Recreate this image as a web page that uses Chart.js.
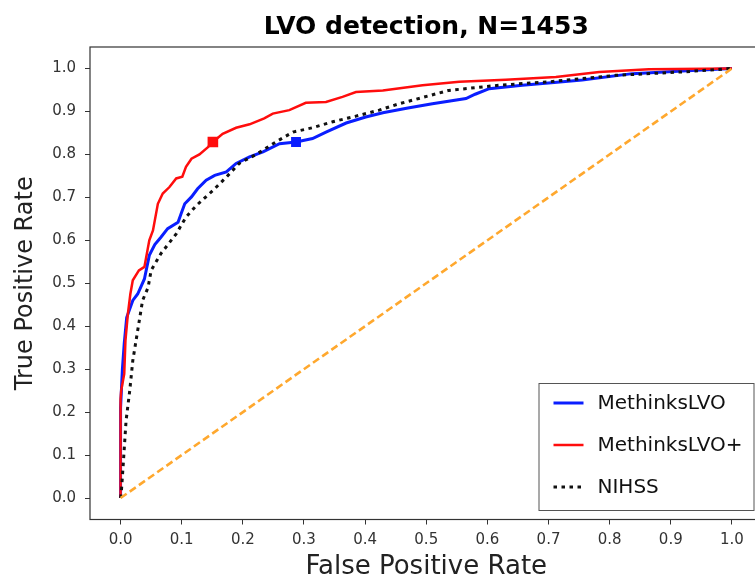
<!DOCTYPE html>
<html>
<head>
<meta charset="utf-8">
<script src="https://cdn.jsdelivr.net/npm/chart.js@4/dist/chart.umd.min.js"></script>
<style>
  html, body { margin: 0; padding: 0; background: #fff; overflow: hidden; }
  #wrap { position: absolute; left: 0; top: 0; width: 770px; height: 583px; }
</style>
</head>
<body>
<div id="wrap"><canvas id="roc"></canvas></div>
<script>
// --- Data ---
const tickValues = [0, 0.1, 0.2, 0.3, 0.4, 0.5, 0.6, 0.7, 0.8, 0.9, 1.0];

// MethinksLVO (blue)
const fprBlue = [0, 0, 0.003, 0.006, 0.010, 0.015, 0.020, 0.028, 0.039, 0.047, 0.056, 0.066, 0.077, 0.094, 0.099,
  0.105, 0.116, 0.126, 0.140, 0.154, 0.173, 0.189, 0.211, 0.233, 0.260, 0.287, 0.314, 0.336, 0.369, 0.401,
  0.429, 0.470, 0.510, 0.565, 0.580, 0.603, 0.657, 0.700, 0.755, 0.837, 0.919, 1.0];
const tprBlue = [0, 0.21, 0.30, 0.36, 0.42, 0.44, 0.46, 0.475, 0.51, 0.565, 0.59, 0.607, 0.627, 0.642, 0.662,
  0.685, 0.701, 0.720, 0.740, 0.751, 0.759, 0.779, 0.794, 0.806, 0.825, 0.829, 0.837, 0.852, 0.873, 0.887,
  0.897, 0.908, 0.918, 0.930, 0.940, 0.953, 0.961, 0.966, 0.973, 0.988, 0.994, 1.0];

// MethinksLVO+ (red)
const fprRed = [0, 0, 0.001, 0.006, 0.008, 0.012, 0.016, 0.020, 0.030, 0.039, 0.047, 0.053, 0.061, 0.069, 0.080,
  0.091, 0.101, 0.107, 0.116, 0.129, 0.143, 0.151, 0.167, 0.189, 0.211, 0.235, 0.249, 0.276, 0.303, 0.336,
  0.363, 0.385, 0.429, 0.494, 0.554, 0.630, 0.712, 0.783, 0.864, 1.0];
const tprRed = [0, 0.23, 0.25, 0.289, 0.367, 0.429, 0.475, 0.507, 0.53, 0.538, 0.60, 0.623, 0.685, 0.709, 0.724,
  0.744, 0.748, 0.771, 0.79, 0.80, 0.817, 0.829, 0.848, 0.862, 0.870, 0.884, 0.895, 0.903, 0.920, 0.922,
  0.934, 0.945, 0.949, 0.961, 0.969, 0.974, 0.980, 0.992, 0.998, 1.0];

// NIHSS (black dotted)
const fprNihss = [0, 0.001, 0.004, 0.009, 0.015, 0.020, 0.028, 0.036, 0.045, 0.050, 0.066, 0.091, 0.107, 0.124,
  0.151, 0.173, 0.194, 0.222, 0.254, 0.282, 0.314, 0.347, 0.385, 0.423, 0.456, 0.537, 0.619, 0.701, 0.810,
  0.919, 1.0];
const tprNihss = [0, 0.009, 0.071, 0.18, 0.25, 0.32, 0.39, 0.46, 0.49, 0.53, 0.569, 0.615, 0.654, 0.681,
  0.716, 0.747, 0.779, 0.80, 0.829, 0.852, 0.862, 0.876, 0.889, 0.903, 0.918, 0.949, 0.961, 0.969, 0.984,
  0.992, 1.0];

// chance diagonal
const fprChance = [0, 1];
const tprChance = [0, 1];

// operating points (squares)
const opRed = [0.151, 0.829];
const opBlue = [0.287, 0.829];

const toPoints = (xs, ys) => xs.map((x, i) => ({ x: x, y: ys[i] }));

// --- Plot frame (all four spines) ---
const framePlugin = {
    id: 'frame',
    afterDatasetsDraw(chart) {
        const { ctx, chartArea: a } = chart;
        ctx.save();
        ctx.strokeStyle = '#333';
        ctx.lineWidth = 1.2;
        ctx.strokeRect(a.left, a.top, a.right - a.left, a.bottom - a.top);
        ctx.restore();
    }
};

// --- Legend box, lower right inside the axes ---
const legendPlugin = {
    id: 'boxLegend',
    afterDraw(chart) {
        const { ctx, chartArea: a } = chart;
        const items = chart.data.datasets.filter(d => d.inLegend);
        const w = 215, rowH = 42, h = 127;
        const right = a.right - 9, bottom = a.bottom - 9.5;
        const left = right - w, top = bottom - h;
        ctx.save();
        ctx.fillStyle = '#fff';
        ctx.fillRect(left, top, w, h);
        ctx.strokeStyle = '#555';
        ctx.lineWidth = 1;
        ctx.strokeRect(left + 0.5, top + 0.5, w, h);
        items.forEach((d, i) => {
            const y = top + 20 + i * rowH;
            ctx.beginPath();
            ctx.setLineDash(d.borderDash || []);
            ctx.strokeStyle = d.borderColor;
            ctx.lineWidth = d.borderWidth;
            ctx.moveTo(left + 15, y);
            ctx.lineTo(left + 45, y);
            ctx.stroke();
            ctx.setLineDash([]);
            ctx.fillStyle = '#111';
            ctx.font = '20px "DejaVu Sans"';
            ctx.textBaseline = 'middle';
            ctx.fillText(d.label, left + 59, y + 1);
        });
        ctx.restore();
    }
};

const ctx = document.getElementById('roc').getContext('2d');
new Chart(ctx, {
    type: 'line',
    data: {
        datasets: [
            {
                label: 'MethinksLVO',
                data: toPoints(fprBlue, tprBlue),
                borderColor: '#0a1eff',
                borderWidth: 3,
                pointRadius: 0,
                inLegend: true,
                order: 4
            },
            {
                label: 'MethinksLVO+',
                data: toPoints(fprRed, tprRed),
                borderColor: '#ff0d0d',
                borderWidth: 2.5,
                pointRadius: 0,
                inLegend: true,
                order: 3
            },
            {
                label: 'NIHSS',
                data: toPoints(fprNihss, tprNihss),
                borderColor: '#111',
                borderWidth: 3,
                borderDash: [3.5, 4.5],
                pointRadius: 0,
                inLegend: true,
                order: 2
            },
            {
                label: 'chance',
                data: toPoints(fprChance, tprChance),
                borderColor: '#ffa82e',
                borderWidth: 2.6,
                borderDash: [7.4, 3.8],
                pointRadius: 0,
                order: 1
            },
            {
                type: 'scatter',
                label: 'op red',
                data: [{ x: opRed[0], y: opRed[1] }],
                pointStyle: 'rect',
                pointRadius: 7.5,
                backgroundColor: '#ff0d0d',
                borderWidth: 0,
                order: 0
            },
            {
                type: 'scatter',
                label: 'op blue',
                data: [{ x: opBlue[0], y: opBlue[1] }],
                pointStyle: 'rect',
                pointRadius: 7,
                backgroundColor: '#0a1eff',
                borderWidth: 0,
                order: 0
            }
        ]
    },
    options: {
        responsive: true,
        maintainAspectRatio: false,
        animation: false,
        layout: { padding: { left: 0, right: 6, top: 0, bottom: 0 } },
        plugins: {
            legend: { display: false },
            tooltip: { enabled: false },
            title: {
                display: true,
                fullSize: false,
                text: 'LVO detection, N=1453',
                color: '#000',
                font: { family: 'DejaVu Sans', size: 25, weight: 'bold' },
                padding: { top: 12, bottom: 5 }
            }
        },
        scales: {
            x: {
                type: 'linear',
                min: -0.05,
                max: 1.05,
                afterBuildTicks: axis => { axis.ticks = tickValues.map(v => ({ value: v })); },
                afterFit: axis => { axis.height = 63.5; },
                border: { display: false },
                grid: { display: true, drawOnChartArea: false, drawTicks: true, tickLength: 5, color: '#333' },
                ticks: {
                    color: '#333',
                    font: { family: 'DejaVu Sans', size: 15 },
                    padding: 7,
                    maxRotation: 0,
                    autoSkip: false,
                    callback: v => v.toFixed(1)
                },
                title: {
                    display: true,
                    text: 'False Positive Rate',
                    color: '#222',
                    font: { family: 'DejaVu Sans', size: 26 },
                    padding: { top: 0, bottom: 0 }
                }
            },
            y: {
                type: 'linear',
                min: -0.05,
                max: 1.05,
                afterBuildTicks: axis => { axis.ticks = tickValues.map(v => ({ value: v })); },
                afterFit: axis => { axis.width = 90; },
                border: { display: false },
                grid: { display: true, drawOnChartArea: false, drawTicks: true, tickLength: 5, color: '#333' },
                ticks: {
                    color: '#333',
                    font: { family: 'DejaVu Sans', size: 15 },
                    padding: 9,
                    autoSkip: false,
                    callback: v => v.toFixed(1)
                },
                title: {
                    display: true,
                    text: 'True Positive Rate',
                    color: '#222',
                    font: { family: 'DejaVu Sans', size: 24 },
                    padding: { top: 11, bottom: 0 }
                }
            }
        }
    },
    plugins: [framePlugin, legendPlugin]
});
</script>
</body>
</html>
